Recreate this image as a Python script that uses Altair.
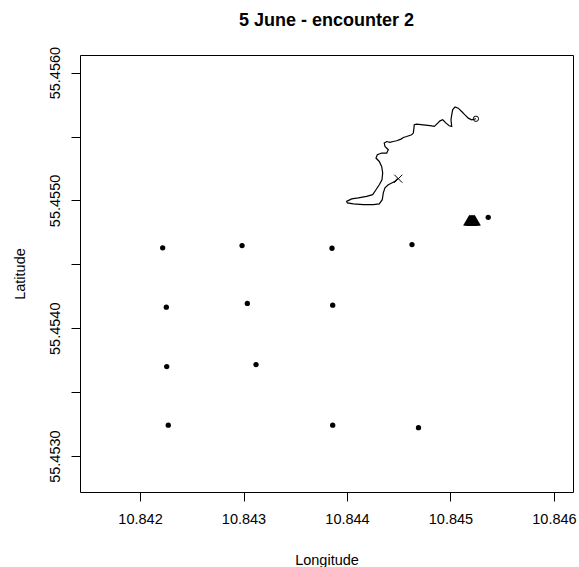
import altair as alt
import pandas as pd

# Station (grid) points
grid_lon = [10.842219, 10.842986, 10.843855, 10.844628, 10.842254, 10.843037, 10.843862,
            10.842258, 10.843121, 10.842273, 10.843862, 10.844691, 10.845365]
grid_lat = [55.454629, 55.454647, 55.454626, 55.454655, 55.454165, 55.454194, 55.454181,
            55.453700, 55.453716, 55.453242, 55.453242, 55.453222, 55.454868]

# Cluster of triangle positions
tri_lon = [10.845183, 10.845193, 10.845203, 10.845213, 10.845223, 10.845233]
tri_lat = [55.454846] * 6

# Track
track_lon = [10.845246, 10.845205, 10.845172, 10.845140, 10.845108, 10.845075, 10.845044,
             10.845021, 10.845012, 10.845005, 10.845012, 10.844988, 10.844957, 10.844925,
             10.844899, 10.844867, 10.844844, 10.844802, 10.844737, 10.844673, 10.844650,
             10.844647, 10.844641, 10.844625, 10.844577, 10.844544, 10.844522, 10.844480,
             10.844447, 10.844415, 10.844384, 10.844360, 10.844367, 10.844399, 10.844384,
             10.844335, 10.844293, 10.844280, 10.844312, 10.844335, 10.844345, 10.844338,
             10.844312, 10.844280, 10.844248, 10.844190, 10.844109, 10.844045, 10.843997,
             10.844003, 10.844061, 10.844158, 10.844254, 10.844312, 10.844341, 10.844351,
             10.844367, 10.844399, 10.844432, 10.844464, 10.844486, 10.844496]
track_lat = [55.455639, 55.455631, 55.455644, 55.455670, 55.455696, 55.455722, 55.455732,
             55.455709, 55.455670, 55.455631, 55.455579, 55.455584, 55.455605, 55.455631,
             55.455623, 55.455597, 55.455579, 55.455586, 55.455592, 55.455597, 55.455592,
             55.455566, 55.455527, 55.455514, 55.455500, 55.455493, 55.455480, 55.455467,
             55.455461, 55.455454, 55.455461, 55.455449, 55.455422, 55.455397, 55.455371,
             55.455371, 55.455358, 55.455332, 55.455305, 55.455266, 55.455215, 55.455162,
             55.455123, 55.455084, 55.455045, 55.455032, 55.455020, 55.455012, 55.454993,
             55.454981, 55.454973, 55.454967, 55.454967, 55.454973, 55.455006, 55.455059,
             55.455098, 55.455123, 55.455137, 55.455149, 55.455168, 55.455170]

start_lon = [10.845246]
start_lat = [55.455639]
end_lon = [10.844496]
end_lat = [55.455170]

x_ticks = [10.842, 10.843, 10.844, 10.845, 10.846]
y_ticks = [55.4530, 55.4535, 55.4540, 55.4545, 55.4550, 55.4555, 55.4560]
x_domain = [10.84142, 10.846184]
y_domain = [55.452719, 55.456138]

FONT = "Liberation Sans"

grid_df = pd.DataFrame({"lon": grid_lon, "lat": grid_lat})
tri_df = pd.DataFrame({"lon": tri_lon, "lat": tri_lat})
track_df = pd.DataFrame({"lon": track_lon, "lat": track_lat, "i": list(range(len(track_lon)))})
start_df = pd.DataFrame({"lon": start_lon, "lat": start_lat})
end_df = pd.DataFrame({"lon": end_lon, "lat": end_lat})

xenc = alt.X("lon:Q", scale=alt.Scale(domain=x_domain, nice=False, zero=False),
             axis=alt.Axis(title="Longitude", values=x_ticks, format=".3f",
                           tickSize=9, labelPadding=11, labelFontSize=14.5,
                           titleFontSize=14.5, titleFontWeight="normal",
                           titleBaseline="alphabetic", titleY=72))
yenc = alt.Y("lat:Q", scale=alt.Scale(domain=y_domain, nice=False, zero=False),
             axis=alt.Axis(title="Latitude", values=y_ticks,
                           labelExpr="round(datum.value*10000) % 10 == 0 ? format(datum.value, '.4f') : ''",
                           labelAngle=-90, labelAlign="center", labelBaseline="bottom",
                           tickSize=9, labelPadding=9, labelFontSize=14.5,
                           titleFontSize=14.5, titleFontWeight="normal",
                           titleBaseline="alphabetic", titleX=-56))

base_x = alt.X("lon:Q")
base_y = alt.Y("lat:Q")

track = alt.Chart(track_df).mark_line(color="black", strokeWidth=1.2).encode(
    x=xenc, y=yenc, order="i:Q")
grid = alt.Chart(grid_df).mark_point(filled=True, color="black", size=28, opacity=1).encode(
    x=base_x, y=base_y)
tris = alt.Chart(tri_df).mark_point(filled=True, color="black", shape="triangle-up",
                                    size=160, opacity=1).encode(x=base_x, y=base_y)
start = alt.Chart(start_df).mark_point(filled=False, color="black", size=28,
                                       strokeWidth=1, opacity=1).encode(x=base_x, y=base_y)
end = alt.Chart(end_df).mark_point(filled=False, color="black", size=64, strokeWidth=1,
                                   opacity=1, shape="M-1,-1L1,1M-1,1L1,-1").encode(
    x=base_x, y=base_y)

chart = alt.layer(track, grid, tris, start, end).properties(
    width=493, height=437,
    title=alt.TitleParams("5 June - encounter 2", font=FONT, fontSize=18,
                          fontWeight="bold", color="black", anchor="middle", offset=16),
    autosize=alt.AutoSizeParams(type="none"),
    padding={"left": 80, "top": 55, "right": 6, "bottom": 75},
).configure(
    font=FONT,
).configure_view(
    stroke="black", strokeWidth=1
).configure_axis(
    domain=False, grid=False, tickColor="black", labelColor="black", titleColor="black",
    labelFont=FONT, titleFont=FONT, tickWidth=1
)

chart.save("out.html", embed_options={"renderer": "svg", "actions": False})
